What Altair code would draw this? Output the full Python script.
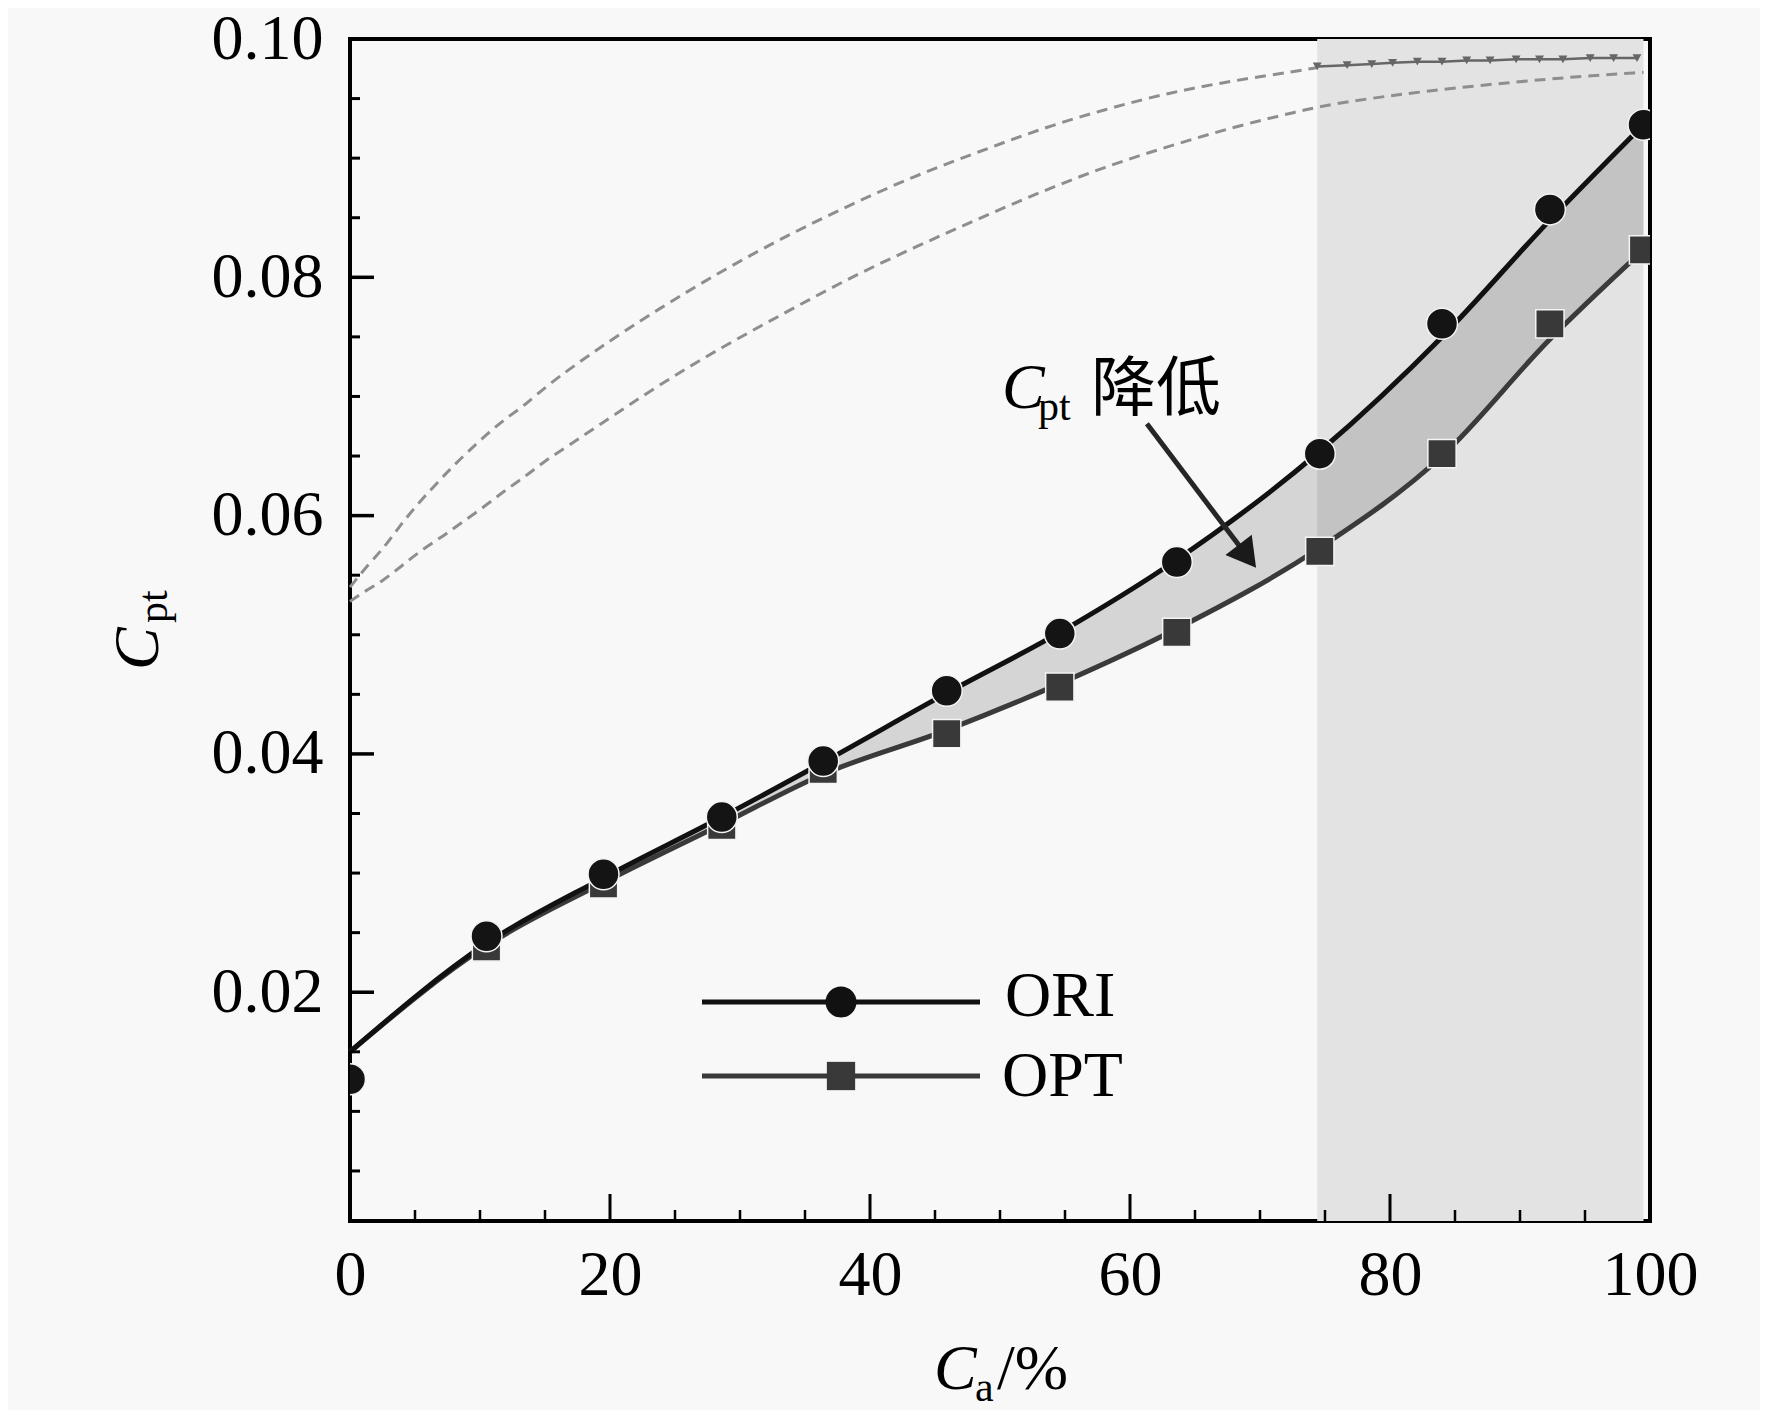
import altair as alt
import pandas as pd

# C_a (%) of the computed points
ca = [0.0, 10.5, 19.5, 28.6, 36.4, 45.9, 54.6, 63.6, 74.6, 84.0, 92.3, 99.5]
ori_pts = [0.0127, 0.0247, 0.0299, 0.0347, 0.0394, 0.0453, 0.0501, 0.0561, 0.0652, 0.0761, 0.0857, 0.0928]
opt_ca = [10.5, 19.5, 28.6, 36.4, 45.9, 54.6, 63.6, 74.6, 84.0, 92.3, 99.5]
opt_pts = [0.0238, 0.0291, 0.0340, 0.0387, 0.0417, 0.0456, 0.0502, 0.0570, 0.0652, 0.0761, 0.0823]
# fitted curves, read at the same C_a
ori_fit = [0.0150, 0.0241, 0.0296, 0.0347, 0.0393, 0.0451, 0.0502, 0.0563, 0.0654, 0.0750, 0.0848, 0.0928]
opt_fit = [0.0150, 0.0239, 0.0292, 0.0341, 0.0383, 0.0420, 0.0459, 0.0505, 0.0573, 0.0650, 0.0748, 0.0823]

# grey dashed reference curves
upper_ca = [0, 1.4, 2.7, 3.8, 5.0, 6.4, 7.7, 9.0, 10.5, 11.9, 13.5, 15.0, 18.9, 23.8, 28.7, 33.6, 38.5,
            43.4, 48.3, 53.2, 58.1, 63.0, 67.9, 72.8, 74.4]
upper_cpt = [0.0540, 0.0559, 0.0574, 0.0591, 0.0607, 0.0624, 0.0639, 0.0653, 0.0668, 0.0681, 0.0693,
             0.0708, 0.0739, 0.0774, 0.0806, 0.0835, 0.0861, 0.0885, 0.0905, 0.0925, 0.0941, 0.0955,
             0.0965, 0.0973, 0.0976]
lower_ca = [0, 1.2, 2.5, 4.0, 5.6, 7.2, 8.7, 10.4, 11.9, 13.5, 15.0, 16.7, 18.9, 23.8, 28.7, 33.6, 38.5,
            43.4, 48.3, 53.2, 58.1, 63.0, 67.9, 72.8, 76.2, 84.6, 94.8, 99.5]
lower_cpt = [0.0528, 0.0537, 0.0545, 0.0558, 0.0572, 0.0583, 0.0595, 0.0608, 0.0621, 0.0633, 0.0646,
             0.0658, 0.0674, 0.0710, 0.0742, 0.0771, 0.0800, 0.0825, 0.0849, 0.0872, 0.0893, 0.0910,
             0.0926, 0.0939, 0.0947, 0.0959, 0.0969, 0.0972]
# saw-tooth line at the top of the shaded zone
wave_ca = [74.4, 76.7, 78.6, 80.2, 82.1, 84.0, 85.9, 87.7, 89.7, 91.5, 93.3, 95.4, 97.2, 99.0]
wave_cpt = [0.0977, 0.0978, 0.0979, 0.0980, 0.0981, 0.0981, 0.0982, 0.0982, 0.0983, 0.0983, 0.0983,
            0.0984, 0.0984, 0.0984]

shade_from = [74.4]
shade_to = [99.5]
arrow_tail = [61.3, 0.0677]
arrow_head = [68.8, 0.0569]

x_major = [0, 20, 40, 60, 80, 100]
x_minor = [5, 10, 15, 25, 30, 35, 45, 50, 55, 65, 70, 75, 85, 90, 95]
y_major = [0.02, 0.04, 0.06, 0.08, 0.10]
y_minor = [0.005, 0.010, 0.015, 0.025, 0.030, 0.035, 0.045, 0.050, 0.055, 0.065, 0.070, 0.075,
           0.085, 0.090, 0.095]

legend_names = ["ORI", "OPT"]
x_title = ["C", "a", "/%"]
y_title = ["C", "pt"]
note = ["C", "pt", "降低"]

W, H = 1300, 1182
SERIF = "Liberation Serif"
CJK = "Noto Sans CJK SC"

xs = alt.Scale(domain=[0, 100], nice=False, zero=False)
ys = alt.Scale(domain=[0.0008, 0.1], nice=False, zero=False)
x_axis = alt.Axis(values=x_major, format="d", ticks=False, domain=False, grid=False, labelFont=SERIF,
                  labelFontSize=64, labelColor="black", labelPadding=22, labelFlush=False,
                  labelOverlap=False, title=None)
y_axis = alt.Axis(values=y_major, format=".2f", ticks=False, domain=False, grid=False, labelFont=SERIF,
                  labelFontSize=64, labelColor="black", labelPadding=27, labelOverlap=False, title=None)


def X(field):
    return alt.X(f"{field}:Q", scale=xs, axis=x_axis)


def Y(field):
    return alt.Y(f"{field}:Q", scale=ys, axis=y_axis)


curves = pd.DataFrame({"ca": ca, "ori_pts": ori_pts, "ori_fit": ori_fit, "opt_fit": opt_fit})
opt = pd.DataFrame({"ca": opt_ca, "opt_pts": opt_pts})
upper = pd.DataFrame({"ca": upper_ca, "cpt": upper_cpt})
lower = pd.DataFrame({"ca": lower_ca, "cpt": lower_cpt})
wave = pd.DataFrame({"ca": wave_ca, "cpt": wave_cpt})

shade = (
    alt.Chart(pd.DataFrame({"a": shade_from, "b": shade_to}))
    .mark_rect(color="#e3e3e3")
    .encode(x=X("a"), x2="b:Q", y=alt.value(0), y2=alt.value(H))
)
band = (
    alt.Chart(curves)
    .mark_area(interpolate="monotone", color="black", opacity=0.14)
    .encode(x=X("ca"), y=Y("ori_fit"), y2="opt_fit:Q")
)
dash_up = alt.Chart(upper).mark_line(color="#8e8e8e", strokeWidth=3, strokeDash=[11, 7],
                                     interpolate="basis").encode(x=X("ca"), y=Y("cpt"))
dash_lo = alt.Chart(lower).mark_line(color="#8e8e8e", strokeWidth=3, strokeDash=[11, 7],
                                     interpolate="basis").encode(x=X("ca"), y=Y("cpt"))
wave_line = alt.Chart(wave).mark_line(color="#666666", strokeWidth=2.5).encode(x=X("ca"), y=Y("cpt"))
wave_pts = alt.Chart(wave).mark_point(shape="triangle-down", filled=True, size=80, color="#666666",
                                      opacity=1).encode(x=X("ca"), y=Y("cpt"))

opt_line = alt.Chart(curves).mark_line(interpolate="monotone", color="#3a3a3a", strokeWidth=5).encode(
    x=X("ca"), y=Y("opt_fit"))
ori_line = alt.Chart(curves).mark_line(interpolate="monotone", color="#111111", strokeWidth=5).encode(
    x=X("ca"), y=Y("ori_fit"))
opt_marks = alt.Chart(opt).mark_point(shape="square", filled=True, size=800, fill="#393939", stroke="#f4f4f4",
                                      strokeWidth=1.5, opacity=1, clip=True).encode(x=X("ca"), y=Y("opt_pts"))
ori_marks = alt.Chart(curves).mark_point(shape="circle", filled=True, size=960, fill="#141414",
                                         stroke="#f4f4f4", strokeWidth=1.5, opacity=1, clip=True).encode(
    x=X("ca"), y=Y("ori_pts"))

arrow_df = pd.DataFrame({"x": [arrow_tail[0]], "y": [arrow_tail[1]], "x2": [arrow_head[0]], "y2": [arrow_head[1]]})
shaft = alt.Chart(arrow_df).mark_rule(color="#262626", strokeWidth=5).encode(
    x=X("x"), y=Y("y"), x2="x2:Q", y2="y2:Q")
head = alt.Chart(arrow_df).mark_point(shape="triangle", angle=142.5, filled=True, size=1100, color="#1a1a1a",
                                      opacity=1).encode(x=X("x2"), y=Y("y2"))


def text_at(label, x, y, size, italic=False, font=SERIF, angle=0):
    mark = alt.Chart(pd.DataFrame({"t": [label]})).mark_text(
        align="left", baseline="alphabetic", font=font, fontSize=size, color="black",
        fontStyle="italic" if italic else "normal", angle=angle,
    )
    return mark.encode(x=alt.value(x), y=alt.value(y), text="t:N")


note_layers = (
    text_at(note[0], 652, 369, 64, italic=True)
    + text_at(note[1], 688, 381, 42)
    + text_at(note[2], 741, 371, 65, font=CJK)
)
title_layers = (
    text_at(x_title[0], 584, 1350, 64, italic=True)
    + text_at(x_title[1], 625, 1362, 42)
    + text_at(x_title[2], 647, 1350, 64)
    + text_at(y_title[0], -192, 631, 64, italic=True, angle=270)
    + text_at(y_title[1], -183, 584, 42, angle=270)
)


def legend_row(name, ypx, color, shape, size, text_x, text_y):
    df = pd.DataFrame({"t": [name]})
    line = alt.Chart(df).mark_rule(color=color, strokeWidth=5).encode(
        x=alt.value(352), x2=alt.value(630), y=alt.value(ypx))
    dot = alt.Chart(df).mark_point(shape=shape, filled=True, size=size, color=color, opacity=1).encode(
        x=alt.value(491), y=alt.value(ypx))
    return line + dot + text_at(name, text_x, text_y, 64)


legend = legend_row(legend_names[0], 963, "#111111", "circle", 960, 655, 977) + legend_row(
    legend_names[1], 1037, "#393939", "square", 800, 652, 1057)

y_maj = alt.Chart(pd.DataFrame({"v": y_major})).mark_rule(color="black", strokeWidth=3.5).encode(
    y=Y("v"), x=alt.value(0), x2=alt.value(24))
y_min = alt.Chart(pd.DataFrame({"v": y_minor})).mark_rule(color="black", strokeWidth=3).encode(
    y=Y("v"), x=alt.value(0), x2=alt.value(10))
x_maj = alt.Chart(pd.DataFrame({"v": x_major})).mark_rule(color="black", strokeWidth=3).encode(
    x=X("v"), y=alt.value(H), y2=alt.value(H - 27))
x_min = alt.Chart(pd.DataFrame({"v": x_minor})).mark_rule(color="black", strokeWidth=2.5).encode(
    x=X("v"), y=alt.value(H), y2=alt.value(H - 11))

chart = (
    alt.layer(
        shade, band, dash_up, dash_lo, wave_line, wave_pts, opt_line, ori_line, opt_marks, ori_marks,
        shaft, head, note_layers, legend, title_layers, y_maj, y_min, x_maj, x_min,
    )
    .properties(
        width=W,
        height=H,
        background="#f8f8f8",
        autosize=alt.AutoSizeParams(type="none"),
        padding={"left": 342, "top": 31, "right": 110, "bottom": 189},
    )
    .configure_view(stroke="black", strokeWidth=4)
)

chart.save("out.html", embed_options={"renderer": "svg", "actions": False})
